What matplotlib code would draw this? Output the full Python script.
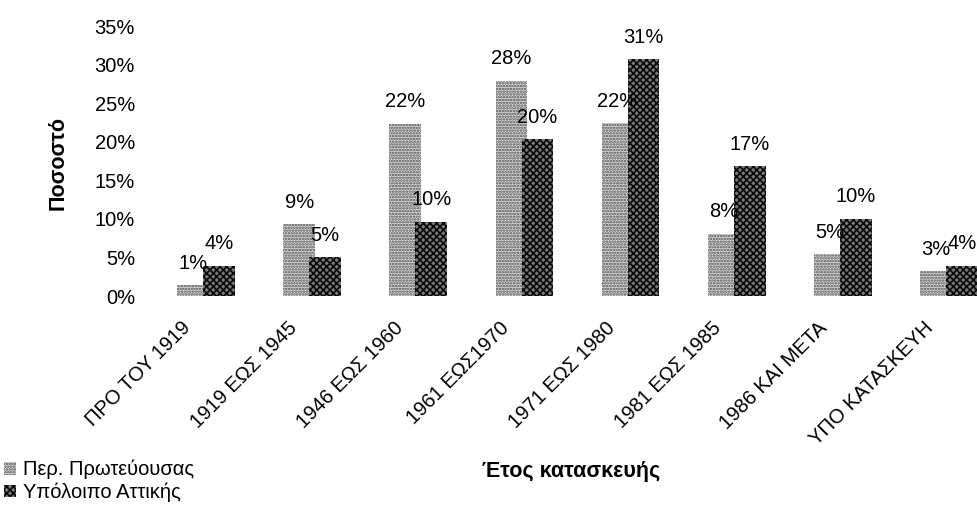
# Έτος κατασκευής - ποσοστό κατοικιών, Περ. Πρωτεύουσας vs Υπόλοιπο Αττικής
import numpy as np
import matplotlib
matplotlib.use('Agg')
import matplotlib.pyplot as plt
import matplotlib.transforms as mtransforms

plt.rcParams['font.family'] = ['Liberation Sans', 'DejaVu Sans']
plt.rcParams['hatch.linewidth'] = 1.2

categories = ['ΠΡΟ ΤΟΥ 1919', '1919 ΕΩΣ 1945', '1946 ΕΩΣ 1960', '1961 ΕΩΣ1970',
              '1971 ΕΩΣ 1980', '1981 ΕΩΣ 1985', '1986 ΚΑΙ ΜΕΤΑ', 'ΥΠΟ ΚΑΤΑΣΚΕΥΗ']
capital = [1.4, 9.3, 22.3, 27.9, 22.4, 8.1, 5.4, 3.2]   # Περ. Πρωτεύουσας
rest = [3.9, 5.0, 9.6, 20.3, 30.7, 16.8, 10.0, 3.9]     # Υπόλοιπο Αττικής
yticks = [0, 5, 10, 15, 20, 25, 30, 35]

W, H = 978, 511
fs = 14.5
fig = plt.figure(figsize=(W/100, H/100), dpi=100)
# axes goes a bit past the right edge, like the original (last bar is cut)
ax = fig.add_axes([153/W, (H-296)/H, 849/W, 270/H])

x = np.arange(len(categories))
bw = 0.30
off = 0.1225
b1 = ax.bar(x - off, capital, bw, facecolor='#dcdcdc', edgecolor='#4a4a4a',
            hatch='......', linewidth=0, label='Περ. Πρωτεύουσας')
b2 = ax.bar(x + off, rest, bw, facecolor='#7a7a7a', edgecolor='#0a0a0a',
            hatch='xxxxx', linewidth=0, label='Υπόλοιπο Αττικής')

for bars, vals in ((b1, capital), (b2, rest)):
    for r, v in zip(bars, vals):
        ax.annotate('{0:.0f}%'.format(v), (r.get_x() + r.get_width()/2, v),
                    xytext=(0, 12), textcoords='offset points',
                    ha='center', va='baseline', fontsize=fs)

ax.set_xlim(-0.5, 7.5)
ax.set_ylim(0, 35)
ax.set_yticks(yticks)
ax.set_yticklabels(['{0}%'.format(t) for t in yticks])
ax.set_xticks(x)
ax.set_xticklabels([])
ax.tick_params(length=0, labelsize=fs)
ax.tick_params(axis='y', pad=13)
for s in ax.spines.values():
    s.set_visible(False)

# rotated category labels, end of the text just left of the category centre
shift = mtransforms.offset_copy(ax.get_xaxis_transform(), fig=fig, x=-25, y=-22, units='dots')
for xi, lab in zip(x, categories):
    ax.text(xi, 0, lab, transform=shift, rotation=45, rotation_mode='anchor',
            ha='right', va='top', fontsize=fs)

fig.text(58/W, 1-163/H, 'Ποσοστό', rotation=90, ha='center', va='center',
         fontsize=15.5, fontweight='bold')
fig.text(571/W, 1-472/H, 'Έτος κατασκευής', ha='center', va='center',
         fontsize=15.5, fontweight='bold')

fig.legend(handles=[b1, b2], loc='lower left', bbox_to_anchor=(-0.01, -0.01),
           frameon=False, fontsize=fs, handlelength=0.6, handleheight=0.6,
           handletextpad=0.35, labelspacing=0.15, borderpad=0.2)

fig.savefig('out.png', dpi=100)
